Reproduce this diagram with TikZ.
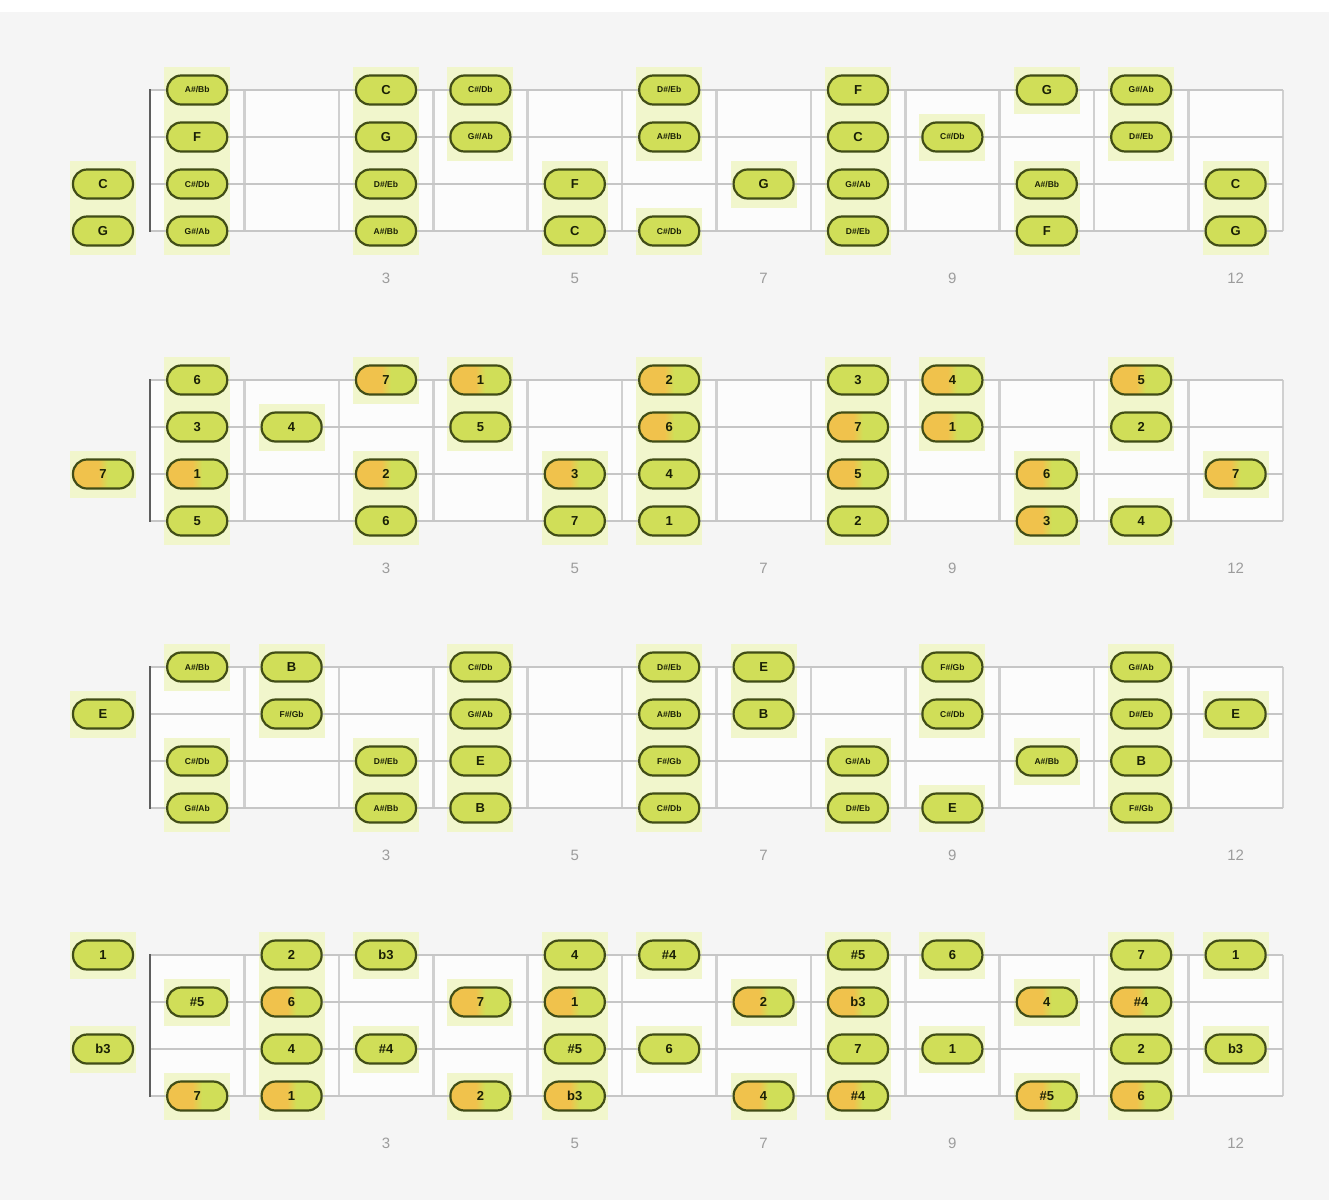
\documentclass[tikz,border=0pt]{standalone}
\usepackage{fontspec}
\setmainfont{Liberation Sans}
\definecolor{bgc}{HTML}{F5F5F5}
\definecolor{boardc}{HTML}{FCFCFC}
\definecolor{strc}{HTML}{C6C6C6}
\definecolor{fretc}{HTML}{D0D0D0}
\definecolor{nutc}{HTML}{5E5E5E}
\definecolor{haloc}{HTML}{F1F6CC}
\definecolor{notegreen}{HTML}{D0DE58}
\definecolor{noteorange}{HTML}{F0C24C}
\definecolor{noteborder}{HTML}{414D16}
\definecolor{notetext}{HTML}{1A2006}
\definecolor{numc}{HTML}{9C9C9C}
\pgfdeclarelayer{bbg}
\pgfdeclarelayer{bg}
\pgfsetlayers{bbg,bg,main}
\pgfdeclarehorizontalshading{halforange}{100bp}{color(0bp)=(noteorange); color(46bp)=(noteorange); color(54bp)=(notegreen); color(100bp)=(notegreen)}
\newcommand\nt[5]{%
  \begin{pgfonlayer}{bg}
    \fill[haloc] ({fx(#2)-33},{ry(#3)-23.5}) rectangle ({fx(#2)+33},{ry(#3)+23.5});
  \end{pgfonlayer}
  \node[#5] (#1) at ({fx(#2)},{ry(#3)}) {#4};}
\newcommand\board[2]{% name prefix, y base
  \begin{scope}[shift={(0,#2)}]
    \begin{pgfonlayer}{bbg}
      \fill[boardc] (150,0) rectangle (1283,141);
    \end{pgfonlayer}
    \foreach \k in {1,...,12} {\draw[fretline] ({150+94.4*\k},0) -- ({150+94.4*\k},141);}
    \foreach \r in {0,1,2,3} {\draw[stringline] (150,{47*\r}) -- (1283,{47*\r});}
    \draw[nutline] (150,-1) -- (150,142);
    \node[fnum] (#1f3) at ({fx(3)},188) {3};
    \node[fnum] (#1f5) at ({fx(5)},188) {5};
    \node[fnum] (#1f7) at ({fx(7)},188) {7};
    \node[fnum] (#1f9) at ({fx(9)},188) {9};
    \node[fnum] (#1f12) at ({fx(12)},188) {12};
  \end{scope}}
\newcommand\AB{A\#/Bb}
\newcommand\CD{C\#/Db}
\newcommand\DE{D\#/Eb}
\newcommand\FG{F\#/Gb}
\newcommand\GA{G\#/Ab}
\begin{document}
\begin{tikzpicture}[x=1pt,y=-1pt,
  declare function={fx(\f)=(\f==0)*103+(\f>0)*(150+94.4*(\f-0.5)); ry(\r)=47*(\r-1);},
  fretline/.style={draw=fretc,line width=2.6pt},
  stringline/.style={draw=strc,line width=2.6pt},
  nutline/.style={draw=nutc,line width=2.4pt},
  fnum/.style={text=numc,font=\fontsize{15}{15}\selectfont},
  gn/.style={draw=noteborder,line width=2.2pt,rounded corners=14pt,minimum width=60pt,minimum height=29pt,inner sep=0pt,fill=notegreen,text=notetext,font=\bfseries\fontsize{13}{13}\selectfont},
  on/.style={gn,shading=halforange},
  gs/.style={gn,font=\bfseries\fontsize{8.5}{8.5}\selectfont}]
\begin{pgfonlayer}{bbg}
  \fill[bgc] (0,0) rectangle (1329,1200);
  \fill[white] (0,0) rectangle (1329,12);
\end{pgfonlayer}
\useasboundingbox (0,0) rectangle (1329,1200);
% ---------------- panel 1 ----------------
\board{pa}{90}
\begin{scope}[shift={(0,90)}]
\nt{a00}{0}{3}{C}{gn}
\nt{a01}{0}{4}{G}{gn}
\nt{a11}{1}{1}{\AB}{gs}
\nt{a12}{3}{1}{C}{gn}
\nt{a13}{4}{1}{\CD}{gs}
\nt{a14}{6}{1}{\DE}{gs}
\nt{a15}{8}{1}{F}{gn}
\nt{a16}{10}{1}{G}{gn}
\nt{a17}{11}{1}{\GA}{gs}
\nt{a21}{1}{2}{F}{gn}
\nt{a22}{3}{2}{G}{gn}
\nt{a23}{4}{2}{\GA}{gs}
\nt{a24}{6}{2}{\AB}{gs}
\nt{a25}{8}{2}{C}{gn}
\nt{a26}{9}{2}{\CD}{gs}
\nt{a27}{11}{2}{\DE}{gs}
\nt{a31}{1}{3}{\CD}{gs}
\nt{a32}{3}{3}{\DE}{gs}
\nt{a33}{5}{3}{F}{gn}
\nt{a34}{7}{3}{G}{gn}
\nt{a35}{8}{3}{\GA}{gs}
\nt{a36}{10}{3}{\AB}{gs}
\nt{a37}{12}{3}{C}{gn}
\nt{a41}{1}{4}{\GA}{gs}
\nt{a42}{3}{4}{\AB}{gs}
\nt{a43}{5}{4}{C}{gn}
\nt{a44}{6}{4}{\CD}{gs}
\nt{a45}{8}{4}{\DE}{gs}
\nt{a46}{10}{4}{F}{gn}
\nt{a47}{12}{4}{G}{gn}
\end{scope}
% ---------------- panel 2 ----------------
\board{pb}{380}
\begin{scope}[shift={(0,380)}]
\nt{b00}{0}{3}{7}{on}
\nt{b11}{1}{1}{6}{gn}
\nt{b12}{3}{1}{7}{on}
\nt{b13}{4}{1}{1}{on}
\nt{b14}{6}{1}{2}{on}
\nt{b15}{8}{1}{3}{gn}
\nt{b16}{9}{1}{4}{on}
\nt{b17}{11}{1}{5}{on}
\nt{b21}{1}{2}{3}{gn}
\nt{b22}{2}{2}{4}{gn}
\nt{b23}{4}{2}{5}{gn}
\nt{b24}{6}{2}{6}{on}
\nt{b25}{8}{2}{7}{on}
\nt{b26}{9}{2}{1}{on}
\nt{b27}{11}{2}{2}{gn}
\nt{b31}{1}{3}{1}{on}
\nt{b32}{3}{3}{2}{on}
\nt{b33}{5}{3}{3}{on}
\nt{b34}{6}{3}{4}{gn}
\nt{b35}{8}{3}{5}{on}
\nt{b36}{10}{3}{6}{on}
\nt{b37}{12}{3}{7}{on}
\nt{b41}{1}{4}{5}{gn}
\nt{b42}{3}{4}{6}{gn}
\nt{b43}{5}{4}{7}{gn}
\nt{b44}{6}{4}{1}{gn}
\nt{b45}{8}{4}{2}{gn}
\nt{b46}{10}{4}{3}{on}
\nt{b47}{11}{4}{4}{gn}
\end{scope}
% ---------------- panel 3 ----------------
\board{pc}{667}
\begin{scope}[shift={(0,667)}]
\nt{c00}{0}{2}{E}{gn}
\nt{c11}{1}{1}{\AB}{gs}
\nt{c12}{2}{1}{B}{gn}
\nt{c13}{4}{1}{\CD}{gs}
\nt{c14}{6}{1}{\DE}{gs}
\nt{c15}{7}{1}{E}{gn}
\nt{c16}{9}{1}{\FG}{gs}
\nt{c17}{11}{1}{\GA}{gs}
\nt{c21}{2}{2}{\FG}{gs}
\nt{c22}{4}{2}{\GA}{gs}
\nt{c23}{6}{2}{\AB}{gs}
\nt{c24}{7}{2}{B}{gn}
\nt{c25}{9}{2}{\CD}{gs}
\nt{c26}{11}{2}{\DE}{gs}
\nt{c27}{12}{2}{E}{gn}
\nt{c31}{1}{3}{\CD}{gs}
\nt{c32}{3}{3}{\DE}{gs}
\nt{c33}{4}{3}{E}{gn}
\nt{c34}{6}{3}{\FG}{gs}
\nt{c35}{8}{3}{\GA}{gs}
\nt{c36}{10}{3}{\AB}{gs}
\nt{c37}{11}{3}{B}{gn}
\nt{c41}{1}{4}{\GA}{gs}
\nt{c42}{3}{4}{\AB}{gs}
\nt{c43}{4}{4}{B}{gn}
\nt{c44}{6}{4}{\CD}{gs}
\nt{c45}{8}{4}{\DE}{gs}
\nt{c46}{9}{4}{E}{gn}
\nt{c47}{11}{4}{\FG}{gs}
\end{scope}
% ---------------- panel 4 ----------------
\board{pd}{955}
\begin{scope}[shift={(0,955)}]
\nt{d00}{0}{1}{1}{gn}
\nt{d01}{0}{3}{b3}{gn}
\nt{d11}{2}{1}{2}{gn}
\nt{d12}{3}{1}{b3}{gn}
\nt{d13}{5}{1}{4}{gn}
\nt{d14}{6}{1}{\#4}{gn}
\nt{d15}{8}{1}{\#5}{gn}
\nt{d16}{9}{1}{6}{gn}
\nt{d17}{11}{1}{7}{gn}
\nt{d18}{12}{1}{1}{gn}
\nt{d21}{1}{2}{\#5}{gn}
\nt{d22}{2}{2}{6}{on}
\nt{d23}{4}{2}{7}{on}
\nt{d24}{5}{2}{1}{on}
\nt{d25}{7}{2}{2}{on}
\nt{d26}{8}{2}{b3}{on}
\nt{d27}{10}{2}{4}{on}
\nt{d28}{11}{2}{\#4}{on}
\nt{d31}{2}{3}{4}{gn}
\nt{d32}{3}{3}{\#4}{gn}
\nt{d33}{5}{3}{\#5}{gn}
\nt{d34}{6}{3}{6}{gn}
\nt{d35}{8}{3}{7}{gn}
\nt{d36}{9}{3}{1}{gn}
\nt{d37}{11}{3}{2}{gn}
\nt{d38}{12}{3}{b3}{gn}
\nt{d41}{1}{4}{7}{on}
\nt{d42}{2}{4}{1}{on}
\nt{d43}{4}{4}{2}{on}
\nt{d44}{5}{4}{b3}{on}
\nt{d45}{7}{4}{4}{on}
\nt{d46}{8}{4}{\#4}{on}
\nt{d47}{10}{4}{\#5}{on}
\nt{d48}{11}{4}{6}{on}
\end{scope}
\end{tikzpicture}
\end{document}
